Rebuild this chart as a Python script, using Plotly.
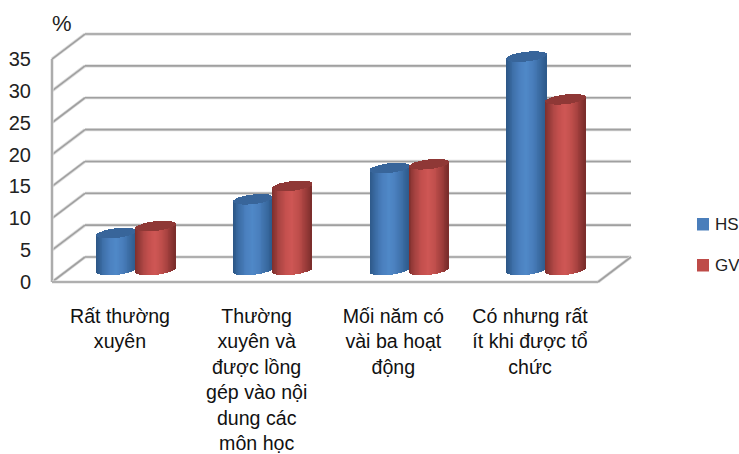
import numpy as np
import plotly.graph_objects as go

categories = ["Rất thường<br>xuyên",
              "Thường<br>xuyên và<br>được lồng<br>gép vào nội<br>dung các<br>môn học",
              "Mối năm có<br>vài ba hoạt<br>động",
              "Có nhưng rất<br>ít khi được tổ<br>chức"]
hs_values = [5.8, 11.1, 16.0, 33.5]
gv_values = [6.9, 13.2, 16.6, 26.8]
y_ticks = [0, 5, 10, 15, 20, 25, 30, 35]
series_names = ["HS", "GV"]

W, H = 739, 454
PX_CAT = 136.67        # pixels per category
PX_VAL = 6.37          # pixels per value unit
CAT0_PX = 136          # pixel of first category centre
ZERO_PX = 282          # pixel of front-plane zero
DOMAIN_L = 32


def cx(px):
    return (px - CAT0_PX) / PX_CAT


x_range = [cx(DOMAIN_L), cx(W)]
y_range = [(ZERO_PX - H) / PX_VAL, ZERO_PX / PX_VAL]

depth_x = 33 / PX_CAT
depth_y = 25 / PX_VAL
left = cx(52)
right = cx(598)
base_lift = 12 / PX_VAL
radius = 19.6 / PX_CAT
half_h = 4.8 / PX_VAL
tilt = 2.2 / PX_VAL
N = 44

blue_stops = ["#2c5685", "#3d6fa8", "#4b80bf", "#5089c8", "#4a7fbd", "#3c6ea6", "#2e5a8b"]
red_stops = ["#7e2f2d", "#a84442", "#c4504e", "#cf5755", "#c04f4c", "#a13f3d", "#7a2d2b"]
cap_colors = {"HS": "#38659a", "GV": "#8f3836"}
legend_colors = {"HS": "#4a7ebb", "GV": "#be4b48"}


def to_rgb(h):
    return np.array([int(h[i:i + 2], 16) for i in (1, 3, 5)], float)


def grad(stops, t):
    pos = t * (len(stops) - 1)
    i = min(int(pos), len(stops) - 2)
    c = to_rgb(stops[i]) * (1 - pos + i) + to_rgb(stops[i + 1]) * (pos - i)
    return "rgb(%d,%d,%d)" % tuple(c)


def cylinder_traces(values, side, stops, cap):
    us = (np.arange(N) + 0.5) / N * 2 - 1
    xs, bases, tops, colors, cap_bases, cap_tops = [], [], [], [], [], []
    for k, v in enumerate(values):
        centre = k + side * radius
        for u in us:
            arc = half_h * np.sqrt(1 - u * u)
            slope = tilt * u
            top = v + base_lift + slope
            xs.append(centre + u * radius)
            bases.append(base_lift + slope - arc)
            tops.append(top - arc)
            colors.append(grad(stops, (u + 1) / 2))
            cap_bases.append(top - arc)
            cap_tops.append(top + arc)
    width = 2 * radius / N * 1.15
    body = go.Bar(x=xs, y=np.array(tops) - np.array(bases), base=bases, width=width,
                  marker=dict(color=colors, line=dict(width=0)), showlegend=False, hoverinfo="skip")
    lid = go.Bar(x=xs, y=np.array(cap_tops) - np.array(cap_bases), base=cap_bases, width=width,
                 marker=dict(color=cap, line=dict(width=0)), showlegend=False, hoverinfo="skip")
    return [body, lid]


fig = go.Figure()
for tr in cylinder_traces(hs_values, -1, blue_stops, cap_colors["HS"]):
    fig.add_trace(tr)
for tr in cylinder_traces(gv_values, 1, red_stops, cap_colors["GV"]):
    fig.add_trace(tr)

shapes = []


def seg(x0, y0, x1, y1):
    for col, w in (("#dcdcdc", 3.2), ("#a0a0a0", 1.6)):
        shapes.append(dict(type="line", xref="x", yref="y", x0=x0, y0=y0, x1=x1, y1=y1,
                           layer="below", line=dict(color=col, width=w)))


for t in y_ticks:
    seg(left, t, left + depth_x, t + depth_y)
    seg(left + depth_x, t + depth_y, right + depth_x, t + depth_y)
seg(left, 0, left, y_ticks[-1])
seg(left, 0, right, 0)
seg(right, 0, right + depth_x, depth_y)


def px_x(p):
    return p / W


def px_y(p):
    return 1 - p / H


annotations = [dict(text="%", xref="paper", yref="paper", x=px_x(62), y=px_y(24), showarrow=False,
                    xanchor="center", yanchor="middle", font=dict(size=22, color="#222222"))]
for name, sq_top in zip(series_names, (218, 259)):
    shapes.append(dict(type="rect", xref="paper", yref="paper", x0=px_x(697), x1=px_x(709),
                       y0=px_y(sq_top), y1=px_y(sq_top + 12.5),
                       fillcolor=legend_colors[name], line=dict(width=0)))
    annotations.append(dict(text=name, xref="paper", yref="paper", x=px_x(713), y=px_y(sq_top + 6),
                            showarrow=False, xanchor="left", yanchor="middle",
                            font=dict(size=17, color="#222222")))

fig.update_layout(
    width=W, height=H, margin=dict(l=0, r=0, t=0, b=0), paper_bgcolor="white", plot_bgcolor="white",
    barmode="overlay", bargap=0, showlegend=False,
    font=dict(family="Liberation Sans", color="#111111"),
    shapes=shapes, annotations=annotations,
    xaxis=dict(domain=[DOMAIN_L / W, 1], range=x_range, anchor="free", position=px_y(302),
               tickmode="array", tickvals=[k - 16 / PX_CAT for k in range(len(categories))],
               ticktext=categories, tickangle=0, showgrid=False, zeroline=False, showline=False,
               ticks="", tickfont=dict(size=19.6, color="#111111")),
    yaxis=dict(range=y_range, tickmode="array", tickvals=y_ticks, ticktext=[str(t) for t in y_ticks],
               showgrid=False, zeroline=False, showline=False, ticks="",
               tickfont=dict(size=20, color="#222222")),
)
fig.write_html("out.html", config={"displayModeBar": False},
               post_script="document.body.style.margin='0';document.body.style.overflow='hidden';")
